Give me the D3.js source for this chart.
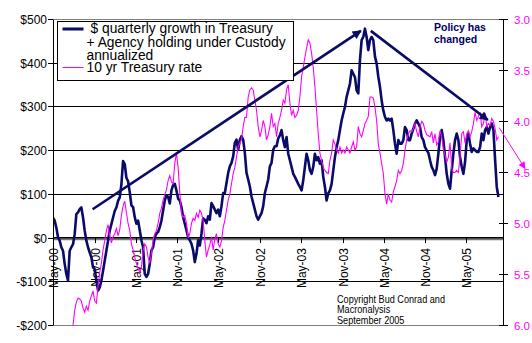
<!DOCTYPE html>
<html><head><meta charset="utf-8">
<script src="https://cdn.jsdelivr.net/npm/d3@7"></script>
<style>html,body{margin:0;padding:0;background:#fff;}svg{display:block;font-family:"Liberation Sans",Arial,sans-serif;}</style>
</head><body><svg id="c" width="532" height="343"></svg>
<script>
// ---- data ----
const sampleStart = new Date(2000, 4, 1);
const sampleStepDays = 7.37;
// $ quarterly growth in Treasury + Agency holding under custody, annualized ($bn)
const custodyGrowth = [
 47,40,24,2,-6,-21,-29,-59,-82,-97,-29,-21,-14,9,55,59,66,70,47,17,-6,-21,-33,-44,-67,-71,-97,-120,-113,-97,-75,-52,-29,-6,17,32,47,62,70,85,93,123,176,169,138,
 130,105,75,71,48,33,40,18,-5,-21,-82,-89,-82,-59,-28,-21,2,10,14,25,40,63,86,98,94,79,109,121,124,109,90,86,71,48,33,18,2,-5,-13,-28,-55,-36,-5,-17,10,
 45,42,34,50,42,80,73,65,57,65,50,73,103,103,126,149,164,172,187,218,225,202,225,233,225,195,149,134,118,95,80,65,50,42,50,57,73,103,118,134,164,172,202,210,210,
 228,235,247,224,208,231,193,178,163,147,140,132,124,117,109,132,163,193,178,155,147,163,193,178,185,170,178,140,117,86,102,109,124,155,185,208,224,247,269,285,300,323,338,353,384,
 376,368,338,331,407,453,460,479,460,430,453,460,453,415,399,369,346,315,292,277,269,273,269,273,247,216,193,224,216,216,224,254,247,224,224,239,250,262,269,262,254,231,224,208,201,
 195,178,163,155,144,159,193,231,247,224,185,147,124,113,155,193,224,239,224,185,163,147,174,224,239,216,197,205,201,197,197,208,239,224,247,254,239,254,262,247,180,117,94
];
// 10 yr Treasury rate (%)
const treasuryRate = [
 6.40,6.45,6.35,6.30,6.25,6.20,6.15,6.10,6.12,6.10,6.08,6.04,
 6.00,5.85,5.77,5.73,5.74,5.76,5.83,5.87,5.81,5.85,5.76,5.71,5.66,5.76,5.78,5.61,5.48,5.39,5.26,5.17,5.07,5.01,5.12,5.19,5.13,5.10,5.05,5.12,5.06,4.92,4.83,4.78,4.89,
 5.00,5.07,5.20,5.26,5.33,5.39,5.44,5.48,5.43,5.26,5.20,5.23,5.33,5.39,5.29,5.16,5.10,5.07,5.00,4.90,4.85,4.77,4.72,4.67,4.58,4.53,4.59,4.61,4.41,4.31,4.45,4.70,4.90,4.94,4.92,5.00,5.14,5.10,5.00,4.95,4.97,4.90,4.94,4.87,4.90,
 4.97,5.17,5.33,5.26,5.21,5.13,5.26,5.15,5.10,5.20,5.23,5.17,5.04,4.97,4.87,4.77,4.71,4.61,4.51,4.45,4.35,4.25,4.21,4.18,4.05,3.96,3.96,3.76,3.69,3.67,3.69,3.79,3.89,4.05,4.15,4.09,3.99,4.05,4.18,4.13,4.05,3.92,4.05,4.02,4.15,
 4.02,3.96,3.89,3.79,3.82,3.69,3.64,3.82,3.94,3.89,3.96,3.94,3.89,3.76,3.56,3.47,3.37,3.28,3.20,3.23,3.33,3.47,3.66,3.89,4.12,4.31,4.38,4.45,4.48,4.50,4.51,4.38,4.31,4.18,4.22,4.28,4.31,4.25,4.31,4.28,4.31,4.25,4.28,4.31,4.25,
 4.20,4.28,4.25,4.05,4.12,4.15,4.09,4.02,3.99,3.95,3.76,3.76,3.77,3.86,3.99,4.22,4.31,4.41,4.51,4.71,4.81,4.71,4.77,4.79,4.69,4.64,4.58,4.48,4.51,4.48,4.41,4.28,4.18,4.12,4.09,4.10,4.07,4.02,4.10,4.15,4.05,4.00,4.02,4.09,4.13,
 4.14,4.15,4.10,4.21,4.12,4.23,4.20,4.09,4.15,4.27,4.33,4.40,4.35,4.21,4.46,4.50,4.50,4.48,4.50,4.35,4.12,4.10,4.21,4.12,4.09,4.15,4.10,4.02,3.91,3.99,3.95,3.91,4.05,4.02,3.92,4.05,4.02,4.04,3.97,4.00,4.07,4.18,4.15
];
const xTickDates = ["2000-05-01","2000-11-01","2001-05-01","2001-11-01","2002-05-01","2002-11-01","2003-05-01","2003-11-01","2004-05-01","2004-11-01","2005-05-01"];
const xTickLabels = ["May-00","Nov-00","May-01","Nov-01","May-02","Nov-02","May-03","Nov-03","May-04","Nov-04","May-05"];
const leftTicks = [500,400,300,200,100,0,-100,-200];
const leftTickLabels = ["$500","$400","$300","$200","$100","$0","-$100","-$200"];
const rightTicks = [3.0,3.5,4.0,4.5,5.0,5.5,6.0];
const rightTickLabels = ["3.0","3.5","4.0","4.5","5.0","5.5","6.0"];
const legendLines1 = ["$ quarterly growth in Treasury","+ Agency holding under Custody","annualized"];
const legendLabel2 = "10 yr Treasury rate";
const noteLines = ["Policy has","changed"];
const copyrightLines = ["Copyright Bud Conrad and","Macronalysis","September 2005"];
// trend arrows (date, value)
const riseArrow = [["2000-10-23",66],["2004-01-21",474]];
const fallArrow = [["2004-03-05",474],["2005-08-04",270]];
const rateArrow = [["2005-09-23",4.06],["2006-01-15",4.46]];

// ---- drawing ----
const NAVY = "#0a0a6a", MAG = "#ff00ff";
const svg = d3.select("#c");
const pd = d3.timeParse("%Y-%m-%d");
const L = 53, R = 503, T = 19.5, B = 325.5;
const x = d3.scaleTime().domain([new Date(2000,4,1), new Date(2005,9,10)]).range([L, R]);
const yL = d3.scaleLinear().domain([-200,500]).range([B, T]);
const yR = d3.scaleLinear().domain([6,3]).range([B, T]);
const dateAt = i => new Date(sampleStart.getTime() + i*sampleStepDays*864e5);
const crisp = v => Math.floor(v) + 0.5;

// gridlines
leftTicks.forEach(v => {
  if (v === 500 || v === -200 || v === 0) return;
  svg.append("line").attr("x1", L).attr("x2", R).attr("y1", crisp(yL(v))).attr("y2", crisp(yL(v)))
    .attr("stroke", "#000").attr("stroke-width", 1);
});
svg.append("line").attr("x1", L).attr("x2", R).attr("y1", T).attr("y2", T).attr("stroke", "#808080");
svg.append("line").attr("x1", L).attr("x2", R).attr("y1", B).attr("y2", B).attr("stroke", "#808080");

// clip
svg.append("clipPath").attr("id","plot").append("rect").attr("x",L).attr("y",T).attr("width",R-L).attr("height",B-T);

// zero / category axis
const y0 = yL(0);
svg.append("line").attr("x1", L).attr("x2", R).attr("y1", y0+1.2).attr("y2", y0+1.2).attr("stroke", "#777").attr("stroke-width", 2);
svg.append("line").attr("x1", L).attr("x2", R).attr("y1", y0-0.3).attr("y2", y0-0.3).attr("stroke", "#000").attr("stroke-width", 1.4);

// x ticks + labels
xTickDates.forEach((d,i) => {
  const xx = Math.round(x(pd(d))) + 0.5;
  svg.append("line").attr("x1", xx).attr("x2", xx).attr("y1", y0).attr("y2", y0+5).attr("stroke","#000");
  svg.append("text").attr("transform", `translate(${xx},${y0+10}) rotate(-90)`)
    .attr("text-anchor","end").attr("dy","0.35em").attr("font-size", 12).attr("fill","#000").text(xTickLabels[i]);
});

// series
const g = svg.append("g").attr("clip-path","url(#plot)");
g.append("path").datum(custodyGrowth)
  .attr("d", d3.line().x((d,i)=>x(dateAt(i))).y(d=>yL(d)))
  .attr("fill","none").attr("stroke",NAVY).attr("stroke-width",2.6).attr("stroke-linejoin","round");
g.append("path").datum(treasuryRate)
  .attr("d", d3.line().x((d,i)=>x(dateAt(i))).y(d=>yR(d)))
  .attr("fill","none").attr("stroke",MAG).attr("stroke-width",1.1);

// left axis
svg.append("line").attr("x1", L+0.5).attr("x2", L+0.5).attr("y1", T).attr("y2", B).attr("stroke","#000");
leftTicks.forEach((v,i) => {
  const yy = crisp(yL(v));
  svg.append("line").attr("x1", L-5).attr("x2", L).attr("y1", yy).attr("y2", yy).attr("stroke","#000");
  svg.append("text").attr("x", 47).attr("y", yy).attr("dy","0.36em").attr("text-anchor","end")
    .attr("font-size",12).attr("fill","#000").text(leftTickLabels[i]);
});
// right axis
svg.append("line").attr("x1", R+0.5).attr("x2", R+0.5).attr("y1", T).attr("y2", B).attr("stroke","#000");
rightTicks.forEach((v,i) => {
  const yy = crisp(yR(v));
  svg.append("line").attr("x1", R-4).attr("x2", R+5).attr("y1", yy).attr("y2", yy).attr("stroke","#000");
  svg.append("text").attr("x", 514).attr("y", yy).attr("dy","0.36em")
    .attr("font-size",11.5).attr("fill",MAG).text(rightTickLabels[i]);
});

// arrows
const defs = svg.append("defs");
defs.append("marker").attr("id","hN").attr("viewBox","0 0 10 10").attr("refX",9).attr("refY",5)
  .attr("markerWidth",11).attr("markerHeight",9).attr("markerUnits","userSpaceOnUse").attr("orient","auto")
  .append("path").attr("d","M0,0L10,5L0,10z").attr("fill",NAVY);
defs.append("marker").attr("id","hM").attr("viewBox","0 0 10 10").attr("refX",9).attr("refY",5)
  .attr("markerWidth",8).attr("markerHeight",7).attr("markerUnits","userSpaceOnUse").attr("orient","auto")
  .append("path").attr("d","M0,0L10,5L0,10z").attr("fill",MAG);
[riseArrow, fallArrow].forEach(a => {
  svg.append("line").attr("x1", x(pd(a[0][0]))).attr("y1", yL(a[0][1]))
    .attr("x2", x(pd(a[1][0]))).attr("y2", yL(a[1][1]))
    .attr("stroke", NAVY).attr("stroke-width", 2.6).attr("marker-end","url(#hN)");
});
svg.append("line").attr("x1", x(pd(rateArrow[0][0]))).attr("y1", yR(rateArrow[0][1]))
  .attr("x2", x(pd(rateArrow[1][0]))).attr("y2", yR(rateArrow[1][1]))
  .attr("stroke", MAG).attr("stroke-width", 1).attr("marker-end","url(#hM)");

// legend
svg.append("rect").attr("x",57.5).attr("y",21.5).attr("width",236).attr("height",59)
  .attr("fill","#fff").attr("stroke","#000");
svg.append("line").attr("x1",62.5).attr("x2",83.5).attr("y1",29).attr("y2",29).attr("stroke",NAVY).attr("stroke-width",3);
svg.append("line").attr("x1",62.5).attr("x2",83.5).attr("y1",67.5).attr("y2",67.5).attr("stroke",MAG).attr("stroke-width",1);
const lgx = [90.5, 86.5, 86.5], lgy = [33, 46.5, 59.5];
legendLines1.forEach((t,i) => svg.append("text").attr("x",lgx[i]).attr("y",lgy[i]).attr("font-size",13.8).attr("fill","#000").text(t));
svg.append("text").attr("x",86.5).attr("y",71.5).attr("font-size",13.8).attr("fill","#000").text(legendLabel2);

// note
noteLines.forEach((t,i) => svg.append("text").attr("x",434).attr("y",30.7 + i*12.6)
  .attr("font-size",10.5).attr("font-weight","bold").attr("fill","#000066").text(t));
// copyright (narrow face emulated by horizontal condensing)
copyrightLines.forEach((t,i) => svg.append("text")
  .attr("transform", `translate(337,${302.5 + i*10.5}) scale(0.83,1)`)
  .attr("font-size",11).attr("fill","#000").text(t));
</script></body></html>
